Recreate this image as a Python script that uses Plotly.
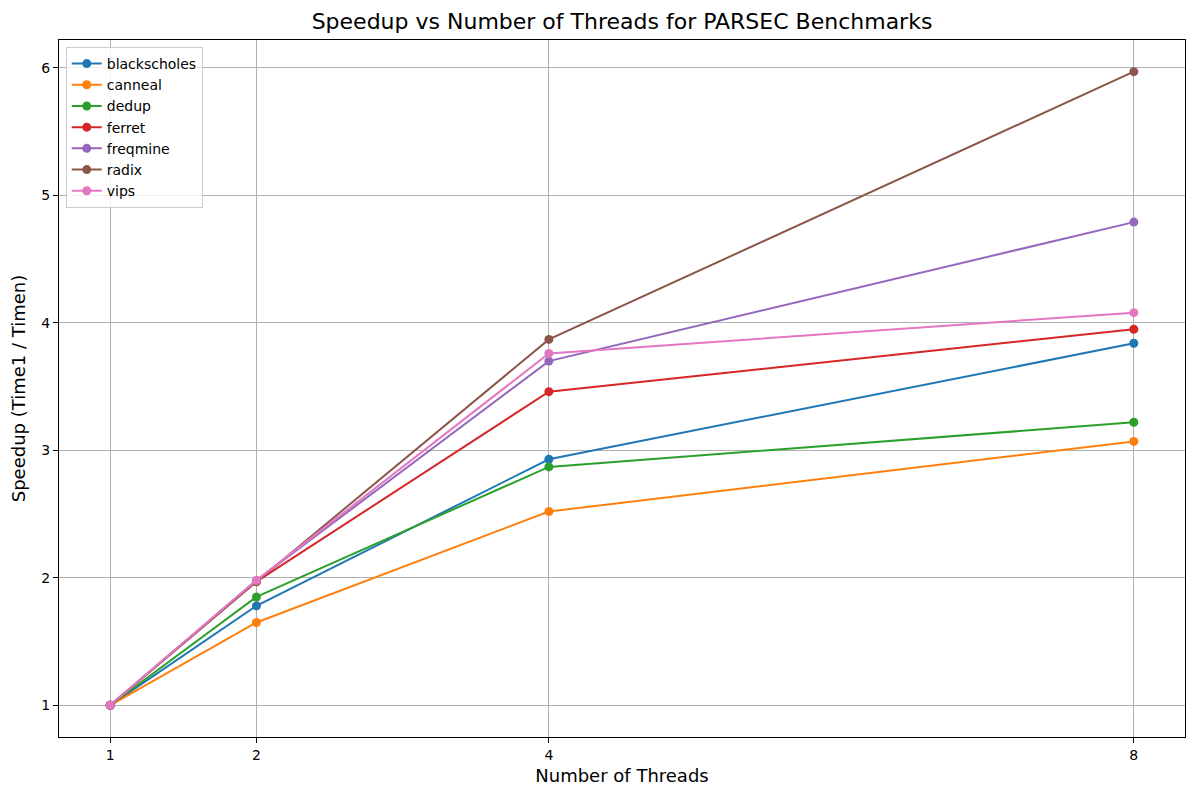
import plotly.graph_objects as go

threads = [1, 2, 4, 8]

blackscholes = [1.0, 1.78, 2.93, 3.84]
canneal = [1.0, 1.65, 2.52, 3.07]
dedup = [1.0, 1.85, 2.87, 3.22]
ferret = [1.0, 1.97, 3.46, 3.95]
freqmine = [1.0, 1.98, 3.70, 4.79]
radix = [1.0, 1.97, 3.87, 5.97]
vips = [1.0, 1.98, 3.76, 4.08]

names = ["blackscholes", "canneal", "dedup", "ferret", "freqmine", "radix", "vips"]
series = [blackscholes, canneal, dedup, ferret, freqmine, radix, vips]
colors = ["#1f77b4", "#ff7f0e", "#2ca02c", "#d62728", "#9467bd", "#8c564b", "#e377c2"]

fig = go.Figure()
for name, vals, c in zip(names, series, colors):
    fig.add_trace(
        go.Scatter(
            x=threads,
            y=vals,
            name=name,
            mode="lines+markers",
            line=dict(color=c, width=2),
            marker=dict(color=c, size=9),
        )
    )

axis_style = dict(
    showgrid=True,
    gridcolor="#b0b0b0",
    gridwidth=1,
    zeroline=False,
    showline=True,
    linecolor="black",
    linewidth=1,
    mirror=True,
    ticks="outside",
    ticklen=5,
    tickcolor="black",
    tickfont=dict(size=14, color="black"),
    automargin=False,
)

# the page body adds an offset, so margins are shifted to compensate
fig.update_layout(
    width=1200,
    height=800,
    paper_bgcolor="white",
    plot_bgcolor="white",
    font=dict(family="DejaVu Sans", color="black"),
    title=dict(
        text="Speedup vs Number of Threads for PARSEC Benchmarks",
        xref="paper",
        x=0.5,
        xanchor="center",
        y=0.984,
        yanchor="middle",
        font=dict(size=22),
    ),
    margin=dict(l=51, r=23, t=32, b=71),
    xaxis=dict(
        axis_style,
        range=[0.65, 8.35],
        tickvals=threads,
        title=dict(text="Number of Threads", font=dict(size=18), standoff=7),
    ),
    yaxis=dict(
        axis_style,
        range=[0.7515, 6.2185],
        tickvals=[1, 2, 3, 4, 5, 6],
        title=dict(text="Speedup (Time1 / Timen)", font=dict(size=18), standoff=10),
    ),
    legend=dict(
        x=0.006,
        y=0.99,
        xanchor="left",
        yanchor="top",
        bgcolor="rgba(255,255,255,0.8)",
        bordercolor="#cccccc",
        borderwidth=1,
        font=dict(size=14),
    ),
    showlegend=True,
)

fig.write_html("out.html")
